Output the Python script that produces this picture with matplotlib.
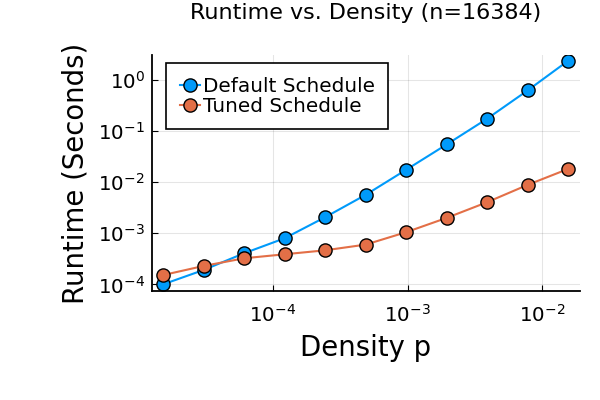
import matplotlib
matplotlib.use("Agg")
import matplotlib.pyplot as plt
from matplotlib.ticker import LogLocator, NullLocator

# densities p = 2^-16 ... 2^-6
density = [2.0 ** -k for k in range(16, 5, -1)]
default_time = [1.0e-4, 1.91e-4, 4.06e-4, 7.98e-4, 2.06e-3, 5.65e-3,
                1.75e-2, 5.48e-2, 0.175, 0.627, 2.39]
tuned_time = [1.52e-4, 2.29e-4, 3.24e-4, 3.88e-4, 4.64e-4, 6.0e-4,
              1.05e-3, 2.0e-3, 4.06e-3, 8.87e-3, 1.82e-2]

blue = "#009AFA"
orange = "#E36F47"

fig = plt.figure(figsize=(6, 4), dpi=100)
ax = fig.add_axes([0.253, 0.2725, 0.714, 0.59])

ax.plot(density, default_time, "-o", color=blue, lw=1.5, ms=9.5,
        mec="black", mew=1.0, label="Default Schedule")
ax.plot(density, tuned_time, "-o", color=orange, lw=1.5, ms=9.5,
        mec="black", mew=1.0, label="Tuned Schedule")

ax.set_xscale("log")
ax.set_yscale("log")
ax.set_xlim(10 ** -4.90, 10 ** -1.717)
ax.set_ylim(10 ** -4.13, 10 ** 0.49)
ax.xaxis.set_major_locator(LogLocator(base=10, numticks=10))
ax.yaxis.set_major_locator(LogLocator(base=10, numticks=10))
ax.xaxis.set_minor_locator(NullLocator())
ax.yaxis.set_minor_locator(NullLocator())

ax.grid(True, color="black", alpha=0.1, lw=0.8)
for s in ["top", "right"]:
    ax.spines[s].set_visible(False)
for s in ["left", "bottom"]:
    ax.spines[s].set_linewidth(1.3)
ax.tick_params(direction="in", length=4, labelsize=14.3, width=0.8)
ax.tick_params(axis="x", pad=9)
ax.tick_params(axis="y", pad=5)

ax.set_title("Runtime vs. Density (n=16384)", fontsize=16, pad=26)
ax.set_xlabel("Density p", fontsize=19.8, labelpad=6)
ax.set_ylabel("Runtime (Seconds)", fontsize=19.8, labelpad=6)

leg = ax.legend(loc="upper left", bbox_to_anchor=(0.033, 0.966),
                fontsize=14.4, fancybox=False, framealpha=1,
                edgecolor="black", handlelength=1.0, handletextpad=0.15,
                borderpad=0.68, labelspacing=0.05, borderaxespad=0)
leg.get_frame().set_linewidth(1.2)

fig.savefig("out.png", dpi=100)
